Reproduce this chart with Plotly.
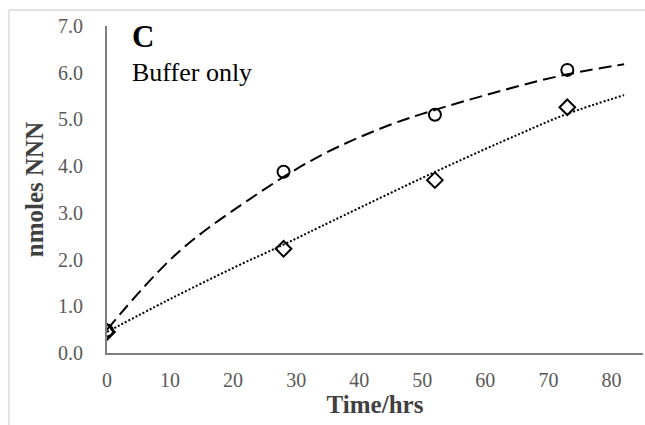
import plotly.graph_objects as go

# Measured data
time_hrs = [0, 28, 52, 73]
circle_vals = [0.48, 3.88, 5.10, 6.06]
diamond_vals = [0.45, 2.23, 3.70, 5.26]

# Trend curves
dash_trend_x = [0, 11, 22.7, 33.5, 44.4, 52.4, 60.3, 68.3, 75, 82]
dash_trend_y = [0.50, 2.12, 3.30, 4.20, 4.86, 5.22, 5.53, 5.82, 6.02, 6.18]
dot_trend_x = [0, 9.5, 20, 28, 33.8, 52.4, 65.6, 73, 82]
dot_trend_y = [0.45, 1.12, 1.82, 2.32, 2.70, 3.90, 4.70, 5.12, 5.52]

x_ticks = [0, 10, 20, 30, 40, 50, 60, 70, 80]
y_ticks = [0, 1, 2, 3, 4, 5, 6, 7]
y_tick_labels = ["0.0", "1.0", "2.0", "3.0", "4.0", "5.0", "6.0", "7.0"]

SERIF = "Liberation Serif"

fig = go.Figure()
fig.add_trace(go.Scatter(x=dash_trend_x, y=dash_trend_y, mode="lines",
                         line=dict(color="black", width=2, dash="13px,6px", shape="spline"),
                         hoverinfo="skip", showlegend=False))
fig.add_trace(go.Scatter(x=dot_trend_x, y=dot_trend_y, mode="lines",
                         line=dict(color="black", width=2, dash="2px,2px", shape="spline"),
                         hoverinfo="skip", showlegend=False))
fig.add_trace(go.Scatter(x=time_hrs, y=circle_vals, mode="markers",
                         marker=dict(symbol="circle-open", size=12, color="black",
                                     line=dict(width=2, color="black")),
                         showlegend=False))
fig.add_trace(go.Scatter(x=time_hrs, y=diamond_vals, mode="markers",
                         marker=dict(symbol="diamond-open", size=12, color="black",
                                     line=dict(width=2, color="black")),
                         showlegend=False))

fig.update_layout(
    width=645, height=425,
    margin=dict(l=107, r=2, t=26, b=72),
    paper_bgcolor="white", plot_bgcolor="white",
    font=dict(family=SERIF, color="#595959"),
    xaxis=dict(range=[0, 85], tickvals=x_ticks, showgrid=False, zeroline=False,
               showline=True, linecolor="#7f7f7f", linewidth=2,
               tickfont=dict(size=20, color="#595959", family=SERIF),
               ticklabelstandoff=8,
               title=dict(text="<b>Time/hrs</b>", font=dict(size=25, color="#404040", family=SERIF),
                          standoff=3)),
    yaxis=dict(range=[0, 7], tickvals=y_ticks, ticktext=y_tick_labels, showgrid=False,
               zeroline=False, showline=True, linecolor="#7f7f7f", linewidth=2,
               tickfont=dict(size=20, color="#595959", family=SERIF),
               ticklabelstandoff=18,
               title=dict(text="<b>nmoles NNN</b>", font=dict(size=25, color="#404040", family=SERIF),
                          standoff=7)),
    shapes=[
        dict(type="line", xref="paper", yref="paper", x0=-0.183, x1=1.01, y0=1.049, y1=1.049,
             line=dict(color="#e3e3e3", width=2)),
        dict(type="line", xref="paper", yref="paper", x0=-0.183, x1=-0.183, y0=1.049, y1=-0.25,
             line=dict(color="#e3e3e3", width=2)),
    ],
    annotations=[
        dict(text="<b><span style='font-size:31px'>C</span></b><br>Buffer only",
             xref="paper", yref="paper", x=0.043, y=1.027, xanchor="left", yanchor="top",
             align="left", showarrow=False,
             font=dict(size=26, color="black", family=SERIF)),
    ],
)

fig.write_html("out.html")
